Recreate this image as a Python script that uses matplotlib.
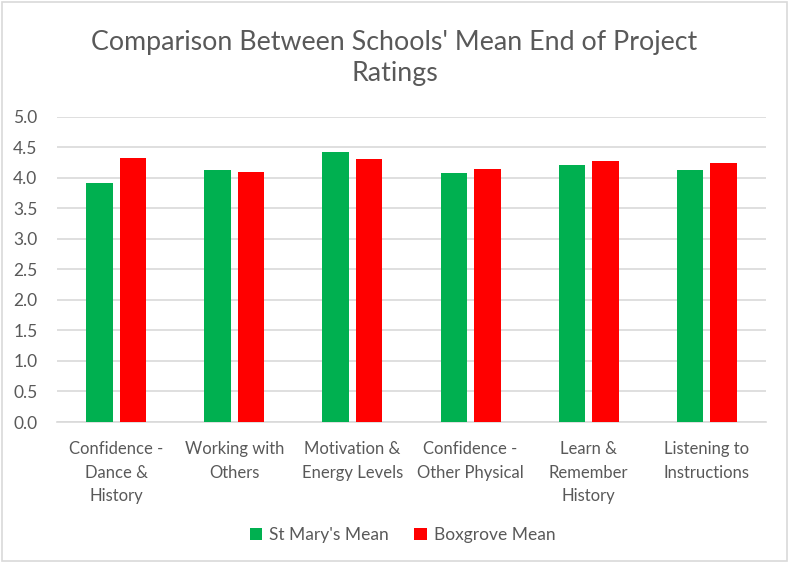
import matplotlib.pyplot as plt
import numpy as np
from matplotlib.patches import Rectangle

categories = [
    "Confidence -\nDance &\nHistory",
    "Working with\nOthers",
    "Motivation &\nEnergy Levels",
    "Confidence -\nOther Physical",
    "Learn &\nRemember\nHistory",
    "Listening to\nInstructions",
]
st_marys = [3.92, 4.13, 4.43, 4.07, 4.21, 4.13]
boxgrove = [4.33, 4.10, 4.30, 4.15, 4.28, 4.25]
series_names = ["St Mary's Mean", "Boxgrove Mean"]
yticks = [0.0, 0.5, 1.0, 1.5, 2.0, 2.5, 3.0, 3.5, 4.0, 4.5, 5.0]

plt.rcParams['font.family'] = ['Lato', 'DejaVu Sans']
text_color = '#595959'
grid_color = '#D9D9D9'

fig = plt.figure(figsize=(7.89, 5.63), dpi=100)
ax = fig.add_axes([0.0722, 0.2504, 0.8986, 0.5423])

x = np.arange(len(categories))
width = 0.224
ax.bar(x - 0.142, st_marys, width, color='#00B050', label=series_names[0], zorder=3)
ax.bar(x + 0.142, boxgrove, width, color='#FF0000', label=series_names[1], zorder=3)

ax.set_xlim(-0.5, len(categories) - 0.5)
ax.set_ylim(0, 5.0)
ax.set_yticks(yticks)
ax.set_yticklabels([f"{v:.1f}" for v in yticks])
ax.set_xticks(x)
ax.set_xticklabels(categories, linespacing=1.55, va='top')

ax.tick_params(axis='x', length=0, labelcolor=text_color, labelsize=12, pad=14)
ax.tick_params(axis='y', length=0, labelcolor=text_color, labelsize=12.5, pad=14)
ax.grid(axis='y', color=grid_color, linewidth=1.2, zorder=0)
for s in ['top', 'right', 'left']:
    ax.spines[s].set_visible(False)
ax.spines['bottom'].set_color(grid_color)
ax.spines['bottom'].set_linewidth(1.2)

fig.text(0.5, 0.897, "Comparison Between Schools' Mean End of Project\nRatings",
         ha='center', va='center', fontsize=19.3, color=text_color, linespacing=1.3)

fig.legend(loc='center', bbox_to_anchor=(0.51, 0.05), ncol=2, frameon=False,
           fontsize=12.5, labelcolor=text_color, handlelength=0.7, handleheight=0.7,
           handletextpad=0.4, columnspacing=1.5)

fig.patches.append(Rectangle((0.003, 0.004), 0.994, 0.992, transform=fig.transFigure,
                             fill=False, edgecolor='#D9D9D9', linewidth=1.2))

fig.savefig('out.png', dpi=100)
